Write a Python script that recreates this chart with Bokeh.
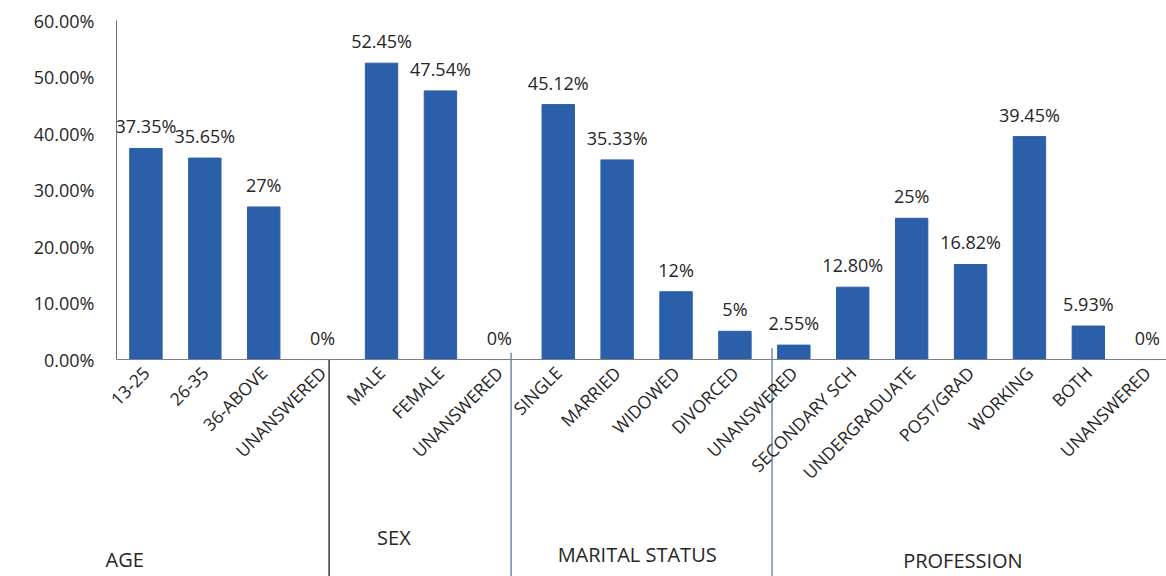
import math
from bokeh.plotting import figure
from bokeh.models import (ColumnDataSource, LinearAxis, FixedTicker,
                          PrintfTickFormatter, Range1d, Label)
from bokeh.core.properties import value
from bokeh.embed import file_html
from bokeh.resources import INLINE

# ---------------- data ----------------
categories = ["13-25", "26-35", "36-ABOVE", "UNANSWERED",
              "MALE", "FEMALE", "UNANSWERED",
              "SINGLE", "MARRIED", "WIDOWED", "DIVORCED", "UNANSWERED",
              "SECONDARY SCH", "UNDERGRADUATE", "POST/GRAD", "WORKING", "BOTH", "UNANSWERED"]
values = [37.35, 35.65, 27, 0,
          52.45, 47.54, 0,
          45.12, 35.33, 12, 5, 2.55,
          12.80, 25, 16.82, 39.45, 5.93, 0]
value_labels = ["37.35%", "35.65%", "27%", "0%",
                "52.45%", "47.54%", "0%",
                "45.12%", "35.33%", "12%", "5%", "2.55%",
                "12.80%", "25%", "16.82%", "39.45%", "5.93%", "0%"]
groups = ["AGE", "SEX", "MARITAL STATUS", "PROFESSION"]
group_sizes = [4, 3, 5, 6]
y_ticks = [0, 10, 20, 30, 40, 50, 60]

# ---------------- layout / style ----------------
BAR = "#2B5FA9"
TXT = "#262626"
FONT = "Open Sans"
xs = list(range(len(categories)))
X_LEFT, X_RIGHT = -2.469, 17.327
Y_BOTTOM, Y_TOP = -38.4, 63.54

p = figure(width=1166, height=576, output_backend="svg", toolbar_location=None,
           x_range=Range1d(X_LEFT, X_RIGHT), y_range=Range1d(Y_BOTTOM, Y_TOP),
           x_axis_location=None, y_axis_location=None,
           min_border_left=0, min_border_right=0, min_border_top=0,
           min_border_bottom=0, outline_line_color=None,
           background_fill_color="white", border_fill_color="white")
p.grid.visible = False

yaxis = LinearAxis(fixed_location=-0.5, ticker=FixedTicker(ticks=y_ticks),
                   formatter=PrintfTickFormatter(format="%.2f%%"),
                   bounds=(0, 60), axis_line_color="#6f6f6f",
                   major_tick_line_color=None, minor_tick_line_color=None,
                   major_tick_out=0, major_tick_in=0, major_label_standoff=22,
                   major_label_text_font=FONT, major_label_text_font_size="18px",
                   major_label_text_color=TXT)
p.add_layout(yaxis, "left")

xaxis = LinearAxis(fixed_location=0, ticker=FixedTicker(ticks=xs),
                   bounds=(-0.5, X_RIGHT),
                   major_label_overrides={i: c for i, c in zip(xs, categories)},
                   major_label_orientation=math.pi / 4,
                   axis_line_color="#7f7f7f",
                   major_tick_line_color=None, minor_tick_line_color=None,
                   major_tick_out=0, major_tick_in=0, major_label_standoff=10,
                   major_label_text_font=FONT, major_label_text_font_size="17.5px",
                   major_label_text_color=TXT)
p.add_layout(xaxis, "below")

src = ColumnDataSource(dict(x=xs, top=values, label=value_labels))
p.vbar(x="x", top="top", bottom=0, width=0.55, source=src,
       fill_color=BAR, line_color=BAR)
p.text(x="x", y="top", text="label", source=src, text_align="center",
       text_baseline="middle", y_offset=-22, text_font=value(FONT),
       text_font_size="18px", text_color=TXT)

# group separators (hand-drawn in the original)
bounds = []
acc = 0
for n in group_sizes[:-1]:
    acc += n
    bounds.append(acc - 0.5)
div_shift = [-0.39, -0.30, -0.87]
div_x = [b + s for b, s in zip(bounds, div_shift)]
p.segment(x0=div_x, x1=div_x, y0=[0, 1.2, 2.0], y1=[Y_BOTTOM] * 3,
          line_color=["#1a1a1a", "#5a7ca6", "#5a7ca6"], line_width=1.3)

# group titles
starts = [0]
for n in group_sizes[:-1]:
    starts.append(starts[-1] + n)
gx_shift = [-0.36, 0.21, 1.34, 1.87]
gy = [-35.4, -31.5, -34.5, -35.6]
for s, d, yv, t in zip(starts, gx_shift, gy, groups):
    p.add_layout(Label(x=s + d, y=yv, text=t, x_units="data", y_units="data",
                       text_align="center", text_baseline="middle",
                       text_font=FONT, text_font_size="20px", text_color=TXT))

open("out.html", "w").write(file_html(p, INLINE))
